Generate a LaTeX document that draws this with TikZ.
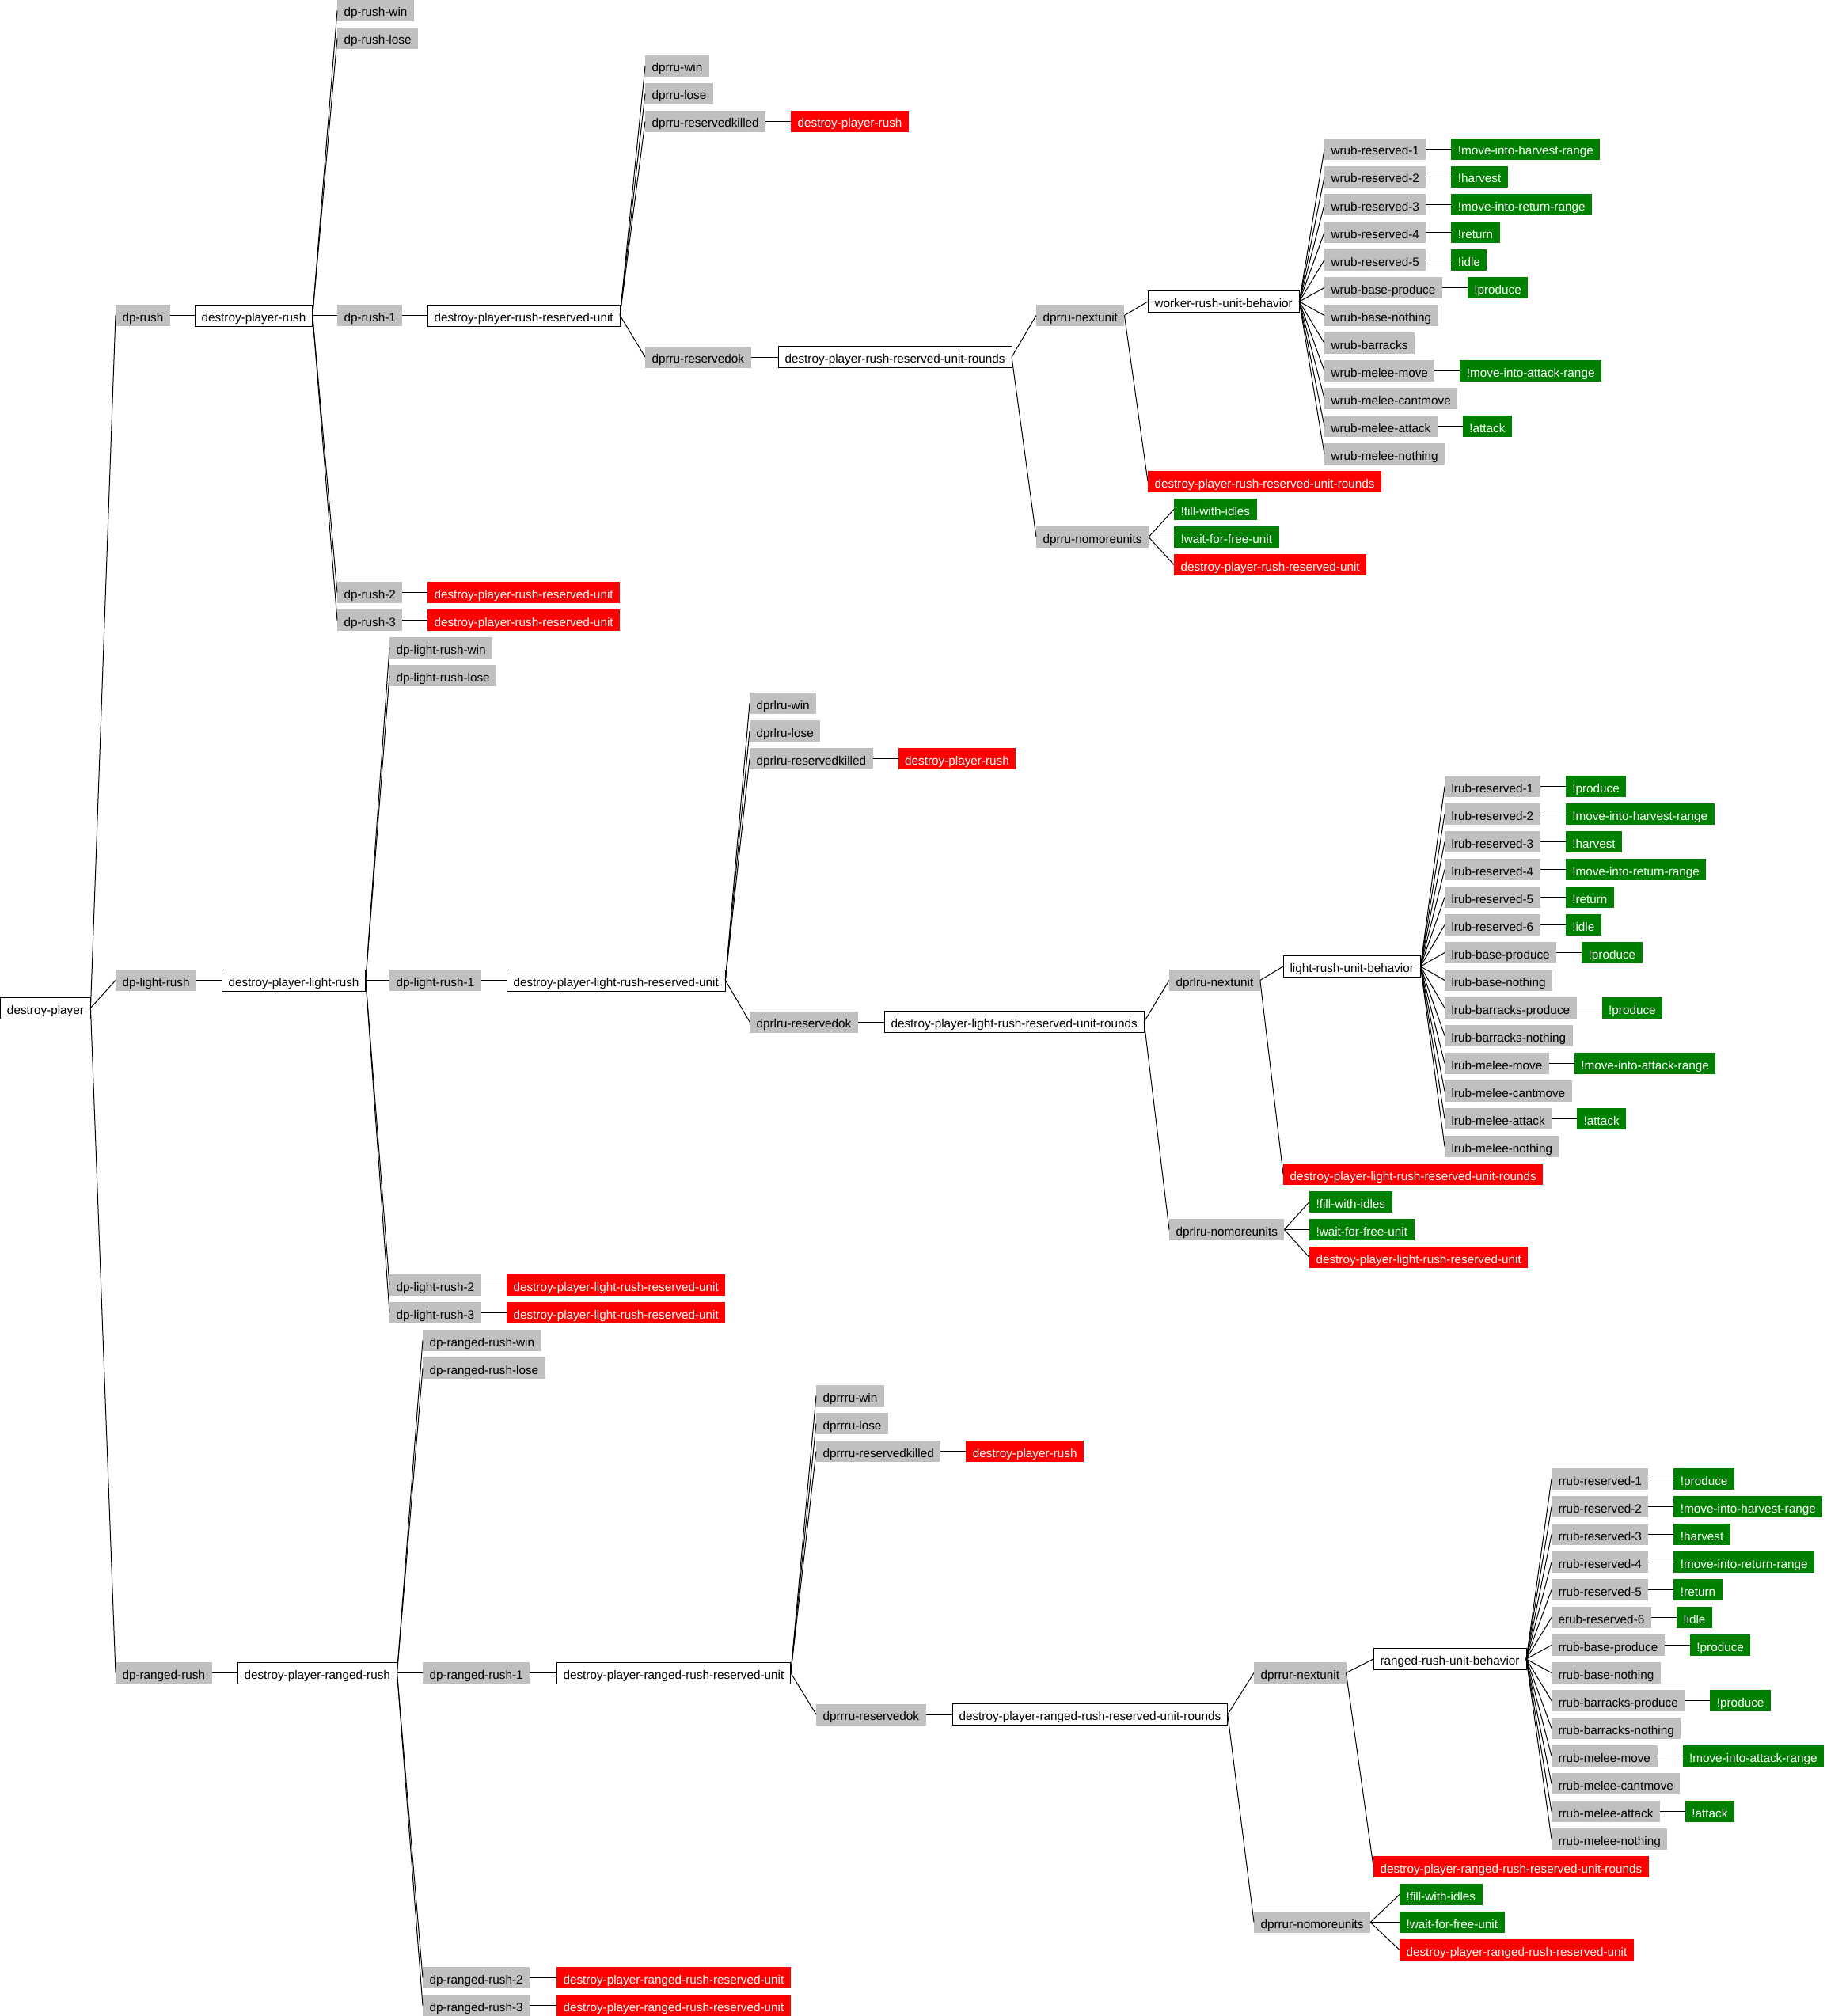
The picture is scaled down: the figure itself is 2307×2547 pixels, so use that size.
\documentclass[tikz,border=0pt]{standalone}
\usepackage{fontspec}
\setmainfont{Liberation Sans}[Ligatures=NoCommon]
\usetikzlibrary{positioning}
\definecolor{boxgray}{HTML}{C0C0C0}
\definecolor{leafgreen}{HTML}{008000}
\definecolor{leafred}{HTML}{FF0000}
\tikzset{
  base/.style={anchor=west, inner xsep=8.5pt, inner ysep=1pt, text height=20pt,
               text depth=5pt, outer sep=0pt, font=\fontsize{15.3}{18}\selectfont},
  task/.style={base, draw=black, line width=1pt, fill=white},
  meth/.style={base, fill=boxgray},
  prim/.style={base, fill=leafgreen, text=white},
  back/.style={base, fill=leafred, text=white},
  link/.style={draw=black, line width=1pt},
}
% node on a row of the layout grid: style, name, left edge, row, label
\newcommand\nd[5]{\node[#1] (#2) at (#3,{35*(#4)+13.5}) {#5};}
% leaf placed to the right of its parent: style, parent, name, label
\newcommand\lf[4]{\node[#1, right=32pt of #2] (#3) {#4};\draw[link] (#2.east) -- (#3.west);}
% connector from parent to child
\newcommand\lk[2]{\draw[link] (#1.east) -- (#2.west);}
\begin{document}
\begin{tikzpicture}[x=1pt, y=-1pt]
\useasboundingbox (0,0) rectangle (2307,2547);

% ---------------- root ----------------
\nd{task}{dp}{0.5}{36}{destroy-player}
\nd{meth}{mr}{146}{11}{dp-rush}
\nd{meth}{ml}{146}{35}{dp-light-rush}
\nd{meth}{mg}{146}{60}{dp-ranged-rush}
\lk{dp}{mr}\lk{dp}{ml}\lk{dp}{mg}

% ---------------- worker rush ----------------
\nd{task}{r1}{246}{11}{destroy-player-rush}
\nd{meth}{r2a}{426}{0}{dp-rush-win}
\nd{meth}{r2b}{426}{1}{dp-rush-lose}
\nd{meth}{r2c}{426}{11}{dp-rush-1}
\nd{meth}{r2d}{426}{21}{dp-rush-2}
\nd{meth}{r2e}{426}{22}{dp-rush-3}
\nd{task}{r3}{540}{11}{destroy-player-rush-reserved-unit}
\nd{back}{r3d}{540}{21}{destroy-player-rush-reserved-unit}
\nd{back}{r3e}{540}{22}{destroy-player-rush-reserved-unit}
\nd{meth}{r4a}{815}{2}{dprru-win}
\nd{meth}{r4b}{815}{3}{dprru-lose}
\nd{meth}{r4c}{815}{4}{dprru-reservedkilled}
\nd{meth}{r4d}{815}{12.5}{dprru-reservedok}
\lf{back}{r4c}{r4cx}{destroy-player-rush}
\nd{task}{r5}{983}{12.5}{destroy-player-rush-reserved-unit-rounds}
\nd{meth}{r6a}{1309}{11}{dprru-nextunit}
\nd{meth}{r6b}{1309}{19}{dprru-nomoreunits}
\nd{task}{r7}{1450}{10.5}{worker-rush-unit-behavior}
\nd{back}{r7x}{1450}{17}{destroy-player-rush-reserved-unit-rounds}
\nd{prim}{r7a}{1483}{18}{!fill-with-idles}
\nd{prim}{r7b}{1483}{19}{!wait-for-free-unit}
\nd{back}{r7c}{1483}{20}{destroy-player-rush-reserved-unit}
\nd{meth}{w1}{1673}{5}{wrub-reserved-1}
\nd{meth}{w2}{1673}{6}{wrub-reserved-2}
\nd{meth}{w3}{1673}{7}{wrub-reserved-3}
\nd{meth}{w4}{1673}{8}{wrub-reserved-4}
\nd{meth}{w5}{1673}{9}{wrub-reserved-5}
\nd{meth}{w6}{1673}{10}{wrub-base-produce}
\nd{meth}{w7}{1673}{11}{wrub-base-nothing}
\nd{meth}{w8}{1673}{12}{wrub-barracks}
\nd{meth}{w9}{1673}{13}{wrub-melee-move}
\nd{meth}{w10}{1673}{14}{wrub-melee-cantmove}
\nd{meth}{w11}{1673}{15}{wrub-melee-attack}
\nd{meth}{w12}{1673}{16}{wrub-melee-nothing}
\lf{prim}{w1}{w1p}{!move-into-harvest-range}
\lf{prim}{w2}{w2p}{!harvest}
\lf{prim}{w3}{w3p}{!move-into-return-range}
\lf{prim}{w4}{w4p}{!return}
\lf{prim}{w5}{w5p}{!idle}
\lf{prim}{w6}{w6p}{!produce}
\lf{prim}{w9}{w9p}{!move-into-attack-range}
\lf{prim}{w11}{w11p}{!attack}
\lk{mr}{r1}
\foreach \c in {r2a,r2b,r2c,r2d,r2e} {\lk{r1}{\c}}
\lk{r2c}{r3}\lk{r2d}{r3d}\lk{r2e}{r3e}
\foreach \c in {r4a,r4b,r4c,r4d} {\lk{r3}{\c}}
\lk{r4d}{r5}
\lk{r5}{r6a}\lk{r5}{r6b}
\lk{r6a}{r7}\lk{r6a}{r7x}
\foreach \c in {r7a,r7b,r7c} {\lk{r6b}{\c}}
\foreach \c in {w1,w2,w3,w4,w5,w6,w7,w8,w9,w10,w11,w12} {\lk{r7}{\c}}

% ---------------- light rush ----------------
\nd{task}{l1}{280}{35}{destroy-player-light-rush}
\nd{meth}{l2a}{492}{23}{dp-light-rush-win}
\nd{meth}{l2b}{492}{24}{dp-light-rush-lose}
\nd{meth}{l2c}{492}{35}{dp-light-rush-1}
\nd{meth}{l2d}{492}{46}{dp-light-rush-2}
\nd{meth}{l2e}{492}{47}{dp-light-rush-3}
\nd{task}{l3}{640}{35}{destroy-player-light-rush-reserved-unit}
\nd{back}{l3d}{640}{46}{destroy-player-light-rush-reserved-unit}
\nd{back}{l3e}{640}{47}{destroy-player-light-rush-reserved-unit}
\nd{meth}{l4a}{947}{25}{dprlru-win}
\nd{meth}{l4b}{947}{26}{dprlru-lose}
\nd{meth}{l4c}{947}{27}{dprlru-reservedkilled}
\nd{meth}{l4d}{947}{36.5}{dprlru-reservedok}
\lf{back}{l4c}{l4cx}{destroy-player-rush}
\nd{task}{l5}{1117}{36.5}{destroy-player-light-rush-reserved-unit-rounds}
\nd{meth}{l6a}{1477}{35}{dprlru-nextunit}
\nd{meth}{l6b}{1477}{44}{dprlru-nomoreunits}
\nd{task}{l7}{1621}{34.5}{light-rush-unit-behavior}
\nd{back}{l7x}{1621}{42}{destroy-player-light-rush-reserved-unit-rounds}
\nd{prim}{l7a}{1654}{43}{!fill-with-idles}
\nd{prim}{l7b}{1654}{44}{!wait-for-free-unit}
\nd{back}{l7c}{1654}{45}{destroy-player-light-rush-reserved-unit}
\nd{meth}{u1}{1825}{28}{lrub-reserved-1}
\nd{meth}{u2}{1825}{29}{lrub-reserved-2}
\nd{meth}{u3}{1825}{30}{lrub-reserved-3}
\nd{meth}{u4}{1825}{31}{lrub-reserved-4}
\nd{meth}{u5}{1825}{32}{lrub-reserved-5}
\nd{meth}{u6}{1825}{33}{lrub-reserved-6}
\nd{meth}{u7}{1825}{34}{lrub-base-produce}
\nd{meth}{u8}{1825}{35}{lrub-base-nothing}
\nd{meth}{u9}{1825}{36}{lrub-barracks-produce}
\nd{meth}{u10}{1825}{37}{lrub-barracks-nothing}
\nd{meth}{u11}{1825}{38}{lrub-melee-move}
\nd{meth}{u12}{1825}{39}{lrub-melee-cantmove}
\nd{meth}{u13}{1825}{40}{lrub-melee-attack}
\nd{meth}{u14}{1825}{41}{lrub-melee-nothing}
\lf{prim}{u1}{u1p}{!produce}
\lf{prim}{u2}{u2p}{!move-into-harvest-range}
\lf{prim}{u3}{u3p}{!harvest}
\lf{prim}{u4}{u4p}{!move-into-return-range}
\lf{prim}{u5}{u5p}{!return}
\lf{prim}{u6}{u6p}{!idle}
\lf{prim}{u7}{u7p}{!produce}
\lf{prim}{u9}{u9p}{!produce}
\lf{prim}{u11}{u11p}{!move-into-attack-range}
\lf{prim}{u13}{u13p}{!attack}
\lk{ml}{l1}
\foreach \c in {l2a,l2b,l2c,l2d,l2e} {\lk{l1}{\c}}
\lk{l2c}{l3}\lk{l2d}{l3d}\lk{l2e}{l3e}
\foreach \c in {l4a,l4b,l4c,l4d} {\lk{l3}{\c}}
\lk{l4d}{l5}
\lk{l5}{l6a}\lk{l5}{l6b}
\lk{l6a}{l7}\lk{l6a}{l7x}
\foreach \c in {l7a,l7b,l7c} {\lk{l6b}{\c}}
\foreach \c in {u1,u2,u3,u4,u5,u6,u7,u8,u9,u10,u11,u12,u13,u14} {\lk{l7}{\c}}

% ---------------- ranged rush ----------------
\nd{task}{g1}{300}{60}{destroy-player-ranged-rush}
\nd{meth}{g2a}{534}{48}{dp-ranged-rush-win}
\nd{meth}{g2b}{534}{49}{dp-ranged-rush-lose}
\nd{meth}{g2c}{534}{60}{dp-ranged-rush-1}
\nd{meth}{g2d}{534}{71}{dp-ranged-rush-2}
\nd{meth}{g2e}{534}{72}{dp-ranged-rush-3}
\nd{task}{g3}{703}{60}{destroy-player-ranged-rush-reserved-unit}
\nd{back}{g3d}{703}{71}{destroy-player-ranged-rush-reserved-unit}
\nd{back}{g3e}{703}{72}{destroy-player-ranged-rush-reserved-unit}
\nd{meth}{g4a}{1031}{50}{dprrru-win}
\nd{meth}{g4b}{1031}{51}{dprrru-lose}
\nd{meth}{g4c}{1031}{52}{dprrru-reservedkilled}
\nd{meth}{g4d}{1031}{61.5}{dprrru-reservedok}
\lf{back}{g4c}{g4cx}{destroy-player-rush}
\nd{task}{g5}{1203}{61.5}{destroy-player-ranged-rush-reserved-unit-rounds}
\nd{meth}{g6a}{1584}{60}{dprrur-nextunit}
\nd{meth}{g6b}{1584}{69}{dprrur-nomoreunits}
\nd{task}{g7}{1735}{59.5}{ranged-rush-unit-behavior}
\nd{back}{g7x}{1735}{67}{destroy-player-ranged-rush-reserved-unit-rounds}
\nd{prim}{g7a}{1768}{68}{!fill-with-idles}
\nd{prim}{g7b}{1768}{69}{!wait-for-free-unit}
\nd{back}{g7c}{1768}{70}{destroy-player-ranged-rush-reserved-unit}
\nd{meth}{v1}{1960}{53}{rrub-reserved-1}
\nd{meth}{v2}{1960}{54}{rrub-reserved-2}
\nd{meth}{v3}{1960}{55}{rrub-reserved-3}
\nd{meth}{v4}{1960}{56}{rrub-reserved-4}
\nd{meth}{v5}{1960}{57}{rrub-reserved-5}
\nd{meth}{v6}{1960}{58}{erub-reserved-6}
\nd{meth}{v7}{1960}{59}{rrub-base-produce}
\nd{meth}{v8}{1960}{60}{rrub-base-nothing}
\nd{meth}{v9}{1960}{61}{rrub-barracks-produce}
\nd{meth}{v10}{1960}{62}{rrub-barracks-nothing}
\nd{meth}{v11}{1960}{63}{rrub-melee-move}
\nd{meth}{v12}{1960}{64}{rrub-melee-cantmove}
\nd{meth}{v13}{1960}{65}{rrub-melee-attack}
\nd{meth}{v14}{1960}{66}{rrub-melee-nothing}
\lf{prim}{v1}{v1p}{!produce}
\lf{prim}{v2}{v2p}{!move-into-harvest-range}
\lf{prim}{v3}{v3p}{!harvest}
\lf{prim}{v4}{v4p}{!move-into-return-range}
\lf{prim}{v5}{v5p}{!return}
\lf{prim}{v6}{v6p}{!idle}
\lf{prim}{v7}{v7p}{!produce}
\lf{prim}{v9}{v9p}{!produce}
\lf{prim}{v11}{v11p}{!move-into-attack-range}
\lf{prim}{v13}{v13p}{!attack}
\lk{mg}{g1}
\foreach \c in {g2a,g2b,g2c,g2d,g2e} {\lk{g1}{\c}}
\lk{g2c}{g3}\lk{g2d}{g3d}\lk{g2e}{g3e}
\foreach \c in {g4a,g4b,g4c,g4d} {\lk{g3}{\c}}
\lk{g4d}{g5}
\lk{g5}{g6a}\lk{g5}{g6b}
\lk{g6a}{g7}\lk{g6a}{g7x}
\foreach \c in {g7a,g7b,g7c} {\lk{g6b}{\c}}
\foreach \c in {v1,v2,v3,v4,v5,v6,v7,v8,v9,v10,v11,v12,v13,v14} {\lk{g7}{\c}}
\end{tikzpicture}
\end{document}
